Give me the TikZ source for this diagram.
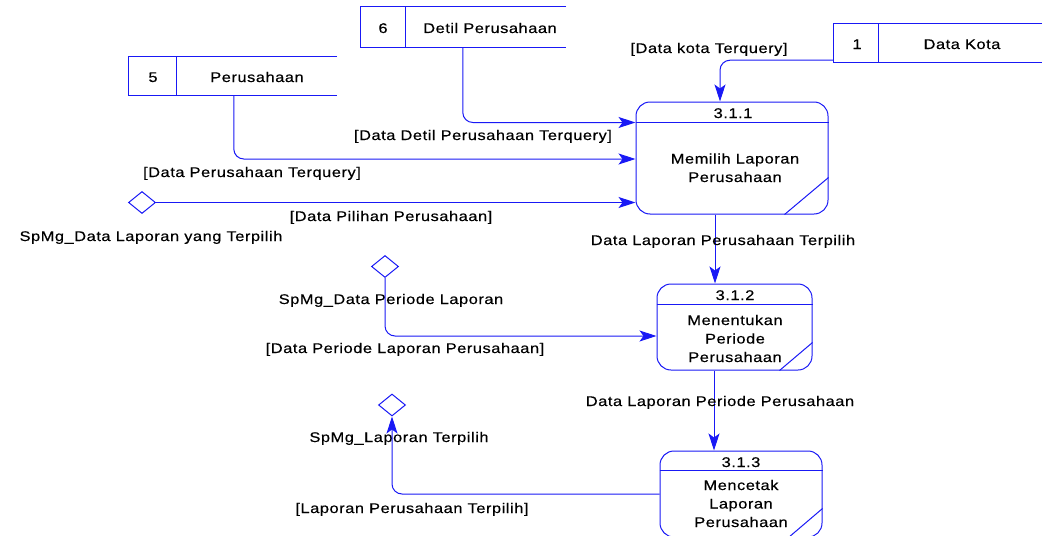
\documentclass[tikz,border=0pt]{standalone}
\usepackage{fontspec}
\setmainfont{Liberation Sans}[FakeStretch=1.17, LetterSpace=4, FakeBold=0.4]
\usetikzlibrary{shapes.geometric,arrows.meta}
\definecolor{dfd}{RGB}{25,25,245}
\begin{document}
\begin{tikzpicture}[x=1pt,y=-1pt,
  line/.style={draw=dfd, line width=1pt},
  flow/.style={line, rounded corners=10pt, -{Stealth[length=17pt,width=11pt,inset=4pt]}},
  proc/.style={line, rectangle, rounded corners=14pt, inner sep=0pt},
  store/.style={rectangle, inner sep=0pt},
  sterm/.style={line, diamond, inner sep=0pt, minimum width=27pt, minimum height=22pt},
  lbl/.style={font=\fontsize{14}{18.5}\selectfont, anchor=base, inner sep=0pt, align=center}]
\useasboundingbox (0,0) rectangle (1048,535);

% data stores (open on the right)
\node[store, minimum width=205pt, minimum height=40pt] (s6) at (463.5,27) {};
\node[store, minimum width=208pt, minimum height=38pt] (s5) at (233,76) {};
\node[store, minimum width=208pt, minimum height=38pt] (s1) at (938,43) {};
\foreach \s/\w in {s6/45, s5/48, s1/45}{
  \draw[line] (\s.north east) -- (\s.north west) -- (\s.south west) -- (\s.south east);
  \draw[line] ([xshift=\w pt]\s.north west) -- ([xshift=\w pt]\s.south west);
}
\node[lbl] (s6id) at (383,33) {6};
\node[lbl] (s6nm) at (490,33) {Detil Perusahaan};
\node[lbl] (s5id) at (153,82) {5};
\node[lbl] (s5nm) at (257,82) {Perusahaan};
\node[lbl] (s1id) at (857,49) {1};
\node[lbl] (s1nm) at (962,49) {Data Kota};

% processes
\node[proc, minimum width=192pt, minimum height=112pt] (p1) at (732,158) {};
\node[proc, minimum width=155pt, minimum height=86pt] (p2) at (734.5,327) {};
\node[proc, minimum width=162pt, minimum height=86pt] (p3) at (741,494) {};
\draw[line] ([yshift=-21pt]p1.north west) -- ([yshift=-21pt]p1.north east);
\draw[line] ([yshift=37pt]p1.south east) -- ([xshift=-44pt]p1.south east);
\draw[line] ([yshift=-21pt]p2.north west) -- ([yshift=-21pt]p2.north east);
\draw[line] ([yshift=28pt]p2.south east) -- ([xshift=-33pt]p2.south east);
\draw[line] ([yshift=-20pt]p3.north west) -- ([yshift=-20pt]p3.north east);
\draw[line] ([yshift=29pt]p3.south east) -- ([xshift=-34pt]p3.south east);
% multi-line labels sit on the baseline of their last line
\node[lbl] (p1id) at (733,118) {3.1.1};
\node[lbl] (p1tx) at (735,182) {Memilih Laporan\\Perusahaan};
\node[lbl] (p2id) at (735,300) {3.1.2};
\node[lbl] (p2tx) at (735,362) {Menentukan\\Periode\\Perusahaan};
\node[lbl] (p3id) at (741,467) {3.1.3};
\node[lbl] (p3tx) at (741,527) {Mencetak\\Laporan\\Perusahaan};

% external entities
\node[sterm] (d1) at (142,202.5) {};
\node[sterm] (d2) at (385,266.5) {};
\node[sterm] (d3) at (392,405) {};
\node[lbl] (d1nm) at (151,241) {SpMg\_Data Laporan yang Terpilih};
\node[lbl] (d2nm) at (391,304) {SpMg\_Data Periode Laporan};
\node[lbl] (d3nm) at (399,442) {SpMg\_Laporan Terpilih};

% data flows
\draw[flow] ([yshift=2pt]s1.south west) -| ([xshift=-12pt]p1.north);
\draw[flow] ([xshift=102pt]s6.south west) |- ([yshift=-21pt]p1.north west);
\draw[flow] ([xshift=105pt]s5.south west) |- ([yshift=-1pt]p1.west);
\draw[flow] (d1.east) -- (d1.east -| p1.west);
\coordinate (a1) at ([xshift=-17pt]p1.south);
\draw[flow] (a1) -- (a1 |- p2.north);
\draw[flow] (d2.south) |- ([yshift=-9pt]p2.west);
\coordinate (a2) at ([xshift=-20.5pt]p2.south);
\draw[flow] (a2) -- (a2 |- p3.north);
\draw[flow] (p3.west) -| (d3.south);

% flow labels
\node[lbl] (f1) at (709,53) {[Data kota Terquery]};
\node[lbl] (f2) at (483,140) {[Data Detil Perusahaan Terquery]};
\node[lbl] (f3) at (252,177) {[Data Perusahaan Terquery]};
\node[lbl] (f4) at (391,221) {[Data Pilihan Perusahaan]};
\node[lbl] (f5) at (723,245) {Data Laporan Perusahaan Terpilih};
\node[lbl] (f6) at (405,353) {[Data Periode Laporan Perusahaan]};
\node[lbl] (f7) at (720,406) {Data Laporan Periode Perusahaan};
\node[lbl] (f8) at (412,513) {[Laporan Perusahaan Terpilih]};
\end{tikzpicture}
\end{document}
